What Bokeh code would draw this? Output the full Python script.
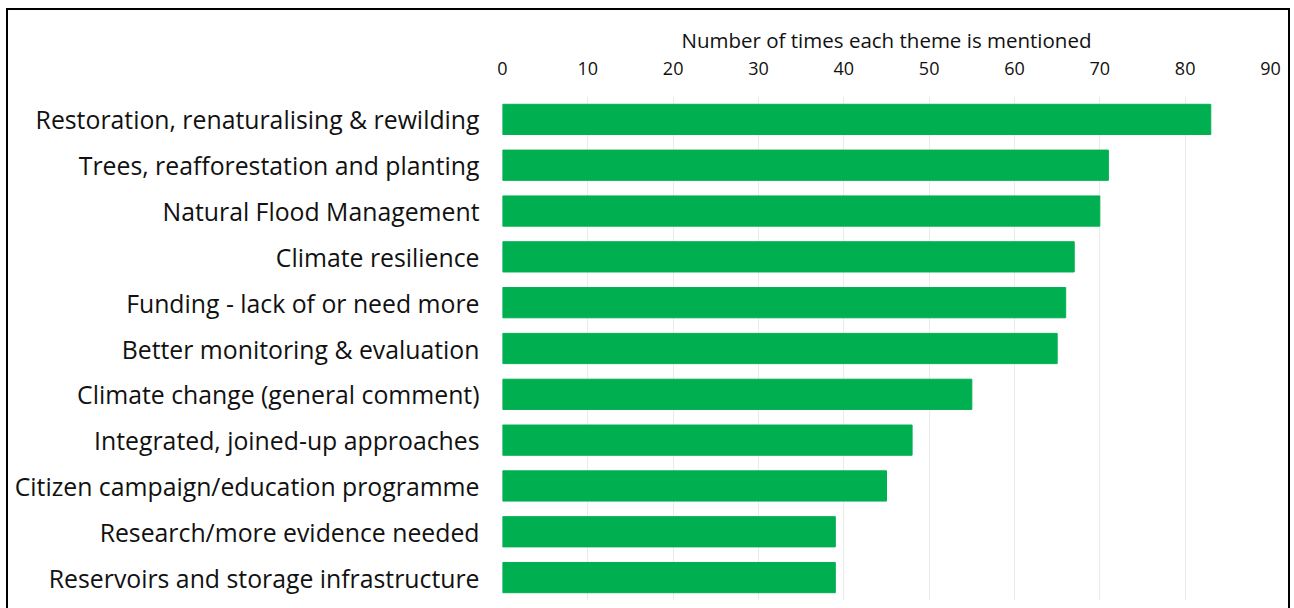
from bokeh.plotting import figure
from bokeh.models import ColumnDataSource, FixedTicker, Range1d
from bokeh.embed import file_html
from bokeh.resources import INLINE

themes = [
    "Restoration, renaturalising & rewilding",
    "Trees, reafforestation and planting",
    "Natural Flood Management",
    "Climate resilience",
    "Funding - lack of or need more",
    "Better monitoring & evaluation",
    "Climate change (general comment)",
    "Integrated, joined-up approaches",
    "Citizen campaign/education programme",
    "Research/more evidence needed",
    "Reservoirs and storage infrastructure",
]
mentions = [83, 71, 70, 67, 66, 65, 55, 48, 45, 39, 39]
x_ticks = [0, 10, 20, 30, 40, 50, 60, 70, 80, 90]

FONT = "Open Sans"

p = figure(
    width=1294, height=608,
    y_range=list(reversed(themes)),
    x_range=Range1d(0, 90),
    x_axis_location="above",
    output_backend="svg", toolbar_location=None,
    min_border_left=502, min_border_right=24,
    min_border_top=96, min_border_bottom=8,
)
p.outline_line_color = None
p.background_fill_color = None
p.border_fill_color = None
p.styles = {
    "background-color": "white",
    "background-image": ("linear-gradient(#000,#000), linear-gradient(#000,#000), "
                         "linear-gradient(#000,#000)"),
    "background-size": "2px 700px, 1284px 2px, 2px 700px",
    "background-position": "6px 8px, 6px 8px, 1288px 8px",
    "background-repeat": "no-repeat",
}

src = ColumnDataSource(dict(theme=themes, n=mentions))
p.hbar(y="theme", right="n", left=0, height=0.66, source=src,
       fill_color="#00B050", line_color="#00B050")

xa = p.xaxis[0]
xa.ticker = FixedTicker(ticks=x_ticks)
xa.axis_label = "Number of times each theme is mentioned"
xa.axis_label_text_font = FONT
xa.axis_label_text_font_style = "normal"
xa.axis_label_text_font_size = "20.5px"
xa.axis_label_text_color = "#111111"
xa.axis_label_standoff = 5
xa.major_label_text_font = FONT
xa.major_label_text_font_size = "18px"
xa.major_label_text_color = "#111111"
xa.major_label_standoff = 16
xa.axis_line_color = None
xa.major_tick_line_color = None
xa.minor_tick_line_color = None

ya = p.yaxis[0]
ya.major_label_text_font = FONT
ya.major_label_text_font_size = "24.8px"
ya.major_label_text_color = "#111111"
ya.major_label_standoff = 17
ya.axis_line_color = None
ya.major_tick_line_color = None
ya.minor_tick_line_color = None

p.xgrid.grid_line_color = "#ebebeb"
p.xgrid.grid_line_width = 1
p.ygrid.grid_line_color = None

open("out.html", "w").write(file_html(p, INLINE))
